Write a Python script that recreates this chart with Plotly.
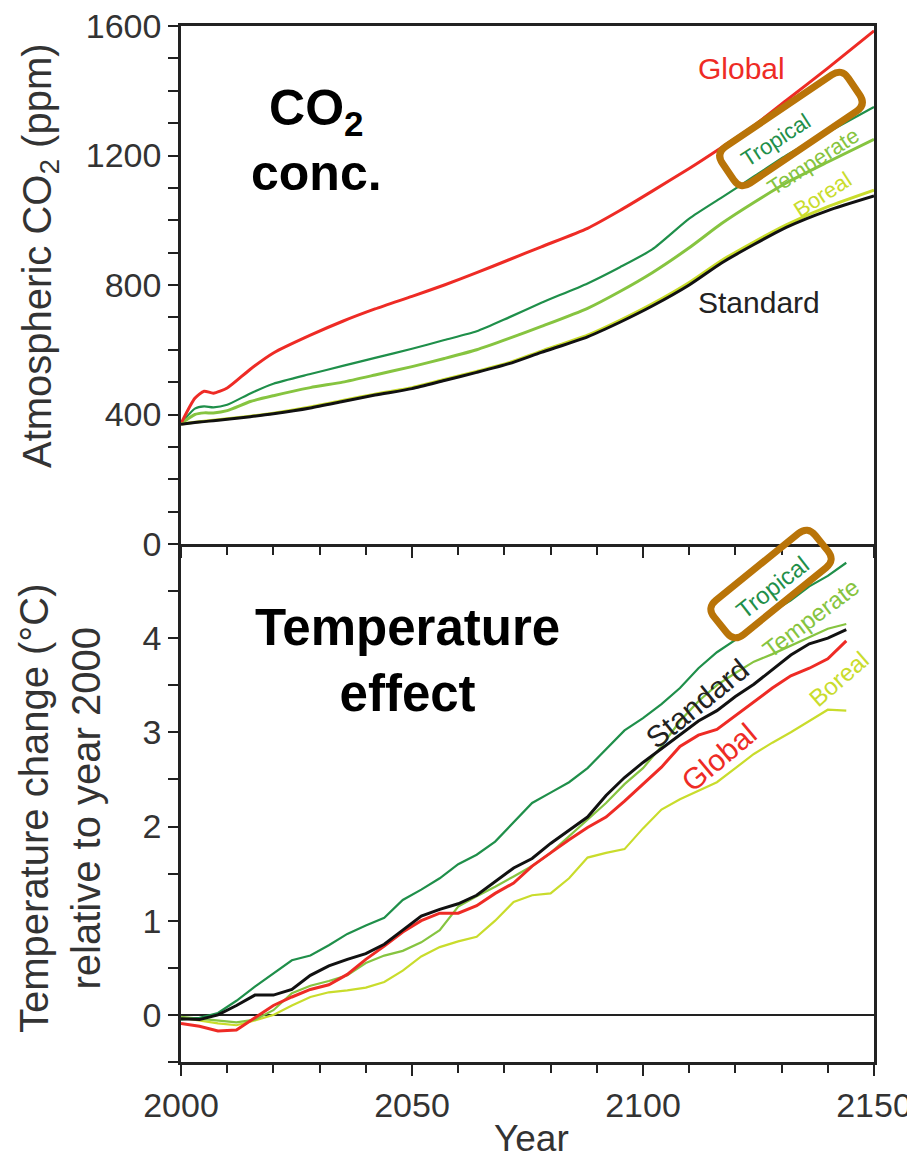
import math
import plotly.graph_objects as go

# ---------------- data ----------------
co2_years = [2000, 2003, 2005, 2007, 2010, 2015, 2020, 2028, 2035, 2042, 2050, 2057,
             2064, 2071, 2078, 2088, 2095, 2102, 2110, 2117, 2124, 2131, 2140, 2150]
co2_global = [372, 450, 472, 466, 482, 540, 590, 645, 688, 726, 765, 800,
              838, 878, 918, 975, 1030, 1090, 1160, 1225, 1292, 1370, 1470, 1585]
co2_tropical = [372, 418, 425, 422, 430, 465, 495, 525, 550, 575, 603, 630,
                657, 700, 745, 805, 855, 910, 1005, 1070, 1135, 1200, 1272, 1350]
co2_temperate = [372, 400, 405, 405, 412, 440, 458, 483, 500, 522, 548, 573,
                 600, 635, 672, 728, 780, 838, 915, 990, 1055, 1115, 1180, 1250]
co2_boreal = [371, 376, 379, 382, 387, 395, 404, 423, 443, 463, 483, 508,
              533, 560, 596, 645, 691, 742, 808, 876, 933, 986, 1042, 1093]
co2_standard = [370, 375, 378, 381, 385, 393, 402, 420, 440, 460, 480, 505,
                530, 557, 592, 640, 685, 735, 800, 868, 925, 978, 1030, 1075]

t_years = list(range(2000, 2145, 4))
t_tropical = [-0.05, -0.03, 0.02, 0.15, 0.30, 0.44, 0.58, 0.63, 0.74, 0.86, 0.95, 1.03,
              1.22, 1.33, 1.45, 1.60, 1.70, 1.84, 2.05, 2.25, 2.36, 2.47, 2.62, 2.82,
              3.02, 3.15, 3.30, 3.47, 3.68, 3.85, 3.98, 4.15, 4.28, 4.40, 4.55, 4.66, 4.80]
t_standard = [-0.04, -0.05, 0.00, 0.10, 0.21, 0.21, 0.27, 0.42, 0.52, 0.59, 0.65, 0.75,
              0.90, 1.05, 1.12, 1.18, 1.27, 1.42, 1.56, 1.66, 1.82, 1.96, 2.10, 2.33,
              2.52, 2.68, 2.83, 2.97, 3.12, 3.23, 3.38, 3.51, 3.66, 3.82, 3.94, 4.00, 4.09]
t_global = [-0.09, -0.12, -0.17, -0.16, -0.03, 0.10, 0.19, 0.27, 0.32, 0.43, 0.59, 0.73,
            0.88, 1.00, 1.08, 1.08, 1.16, 1.29, 1.40, 1.58, 1.72, 1.86, 1.99, 2.10,
            2.27, 2.45, 2.63, 2.85, 2.97, 3.03, 3.18, 3.33, 3.47, 3.60, 3.68, 3.78, 3.97]
t_temperate = [-0.02, -0.04, -0.06, -0.08, -0.05, 0.05, 0.23, 0.31, 0.36, 0.42, 0.55, 0.63,
               0.68, 0.77, 0.90, 1.15, 1.26, 1.36, 1.47, 1.58, 1.72, 1.90, 2.08, 2.25,
               2.45, 2.62, 2.85, 3.12, 3.33, 3.50, 3.63, 3.75, 3.83, 3.92, 4.01, 4.10, 4.15]
t_boreal = [-0.03, -0.06, -0.09, -0.11, -0.06, 0.00, 0.10, 0.19, 0.24, 0.26, 0.29, 0.35,
            0.47, 0.62, 0.72, 0.78, 0.83, 1.00, 1.20, 1.27, 1.29, 1.45, 1.67, 1.72,
            1.76, 1.98, 2.18, 2.29, 2.38, 2.47, 2.62, 2.77, 2.89, 3.00, 3.12, 3.24, 3.23]

# ---------------- styles ----------------
RED = "#ee2b25"
BLACK = "#111111"
TROP = "#1f8f4a"
TEMP = "#86c440"
BORE = "#c9dc2c"
ORANGE = "#b97408"
AXC = "#222222"
TXT = "#333333"
FONT = "Liberation Sans, Arial, sans-serif"

OFF = 8                      # page body margin of the html page
W, H = 915 - OFF, 1161 - OFF
# plot area on screen: x 181..874, y 26..1062
ML = 181 - OFF
MT = 26 - OFF
MR = W - (874 - OFF)
MB = H - (1062 - OFF)
PW = W - ML - MR
PH = H - MT - MB


def px2paper(px, py):
    """screen pixel -> paper coords"""
    return (px - OFF - ML) / PW, (H - MB - (py - OFF)) / PH


fig = go.Figure()

# top panel (CO2)
for vals, col, w in [(co2_tropical, TROP, 2.2), (co2_temperate, TEMP, 3),
                     (co2_global, RED, 3), (co2_boreal, BORE, 3), (co2_standard, BLACK, 3)]:
    fig.add_trace(go.Scatter(x=co2_years, y=vals, mode="lines", xaxis="x2", yaxis="y2",
                             line=dict(color=col, width=w, shape="spline", smoothing=0.6),
                             showlegend=False, hoverinfo="skip"))

# bottom panel (temperature)
for vals, col, w in [(t_boreal, BORE, 2.2), (t_temperate, TEMP, 2.2), (t_tropical, TROP, 2.2),
                     (t_global, RED, 3), (t_standard, BLACK, 3)]:
    fig.add_trace(go.Scatter(x=t_years, y=vals, mode="lines", xaxis="x", yaxis="y",
                             line=dict(color=col, width=w),
                             showlegend=False, hoverinfo="skip"))

axis_common = dict(showgrid=False, linecolor=AXC, linewidth=2.5, ticks="outside",
                   tickcolor=AXC, tickwidth=2, automargin=False, ticklabeloverflow="allow",
                   tickfont=dict(family=FONT, size=34, color=TXT))

fig.update_layout(
    width=W, height=H,
    margin=dict(l=ML, r=MR, t=MT, b=MB, pad=0, autoexpand=False),
    paper_bgcolor="white", plot_bgcolor="white",
    showlegend=False,
    xaxis=dict(domain=[0, 1], anchor="y", range=[2000, 2150], tickmode="linear", tick0=2000,
               dtick=50, ticklen=11, ticklabelstandoff=0, mirror=False,
               minor=dict(dtick=10, tick0=2000, ticks="outside", ticklen=8, tickwidth=2,
                          tickcolor=AXC, showgrid=False),
               **axis_common),
    yaxis=dict(domain=[0, 0.5], anchor="x", range=[-0.5, 4.999], tickmode="linear", tick0=0,
               dtick=1, ticklen=10, zeroline=True, zerolinecolor=AXC, zerolinewidth=2,
               mirror=True,
               minor=dict(dtick=0.5, tick0=0, ticks="outside", ticklen=10, tickwidth=2,
                          tickcolor=AXC, showgrid=False),
               **axis_common),
    xaxis2=dict(domain=[0, 1], anchor="y2", range=[2000, 2150], tickmode="linear", tick0=2000,
                dtick=50, ticklen=11, showticklabels=False, mirror=True,
                minor=dict(dtick=10, tick0=2000, ticks="outside", ticklen=8, tickwidth=2,
                           tickcolor=AXC, showgrid=False),
                **axis_common),
    yaxis2=dict(domain=[0.5, 1], anchor="x2", range=[0, 1600], tickmode="linear", tick0=0,
                dtick=400, ticklen=10, zeroline=False, mirror=True,
                minor=dict(dtick=100, tick0=0, ticks="outside", ticklen=10, tickwidth=2,
                           tickcolor=AXC, showgrid=False),
                **axis_common),
)


def ann(text, px, py, size, color, angle=0, bold=False):
    x, y = px2paper(px, py)
    fig.add_annotation(text=f"<b>{text}</b>" if bold else text, x=x, y=y,
                       xref="paper", yref="paper", xanchor="center", yanchor="middle",
                       showarrow=False, textangle=angle,
                       font=dict(family=FONT, size=size, color=color))


# axis titles
ann("Atmospheric CO<sub>2</sub> (ppm)", 40, 256, 40, TXT, angle=-90)
ann("Temperature change (°C)<br>relative to year 2000", 60, 808, 40, TXT, angle=-90)
ann("Year", 531, 1138, 37, TXT)

# panel labels
ann("CO<sub>2</sub><br>conc.", 316, 140, 50, "#000000", bold=True)
ann("Temperature<br>effect", 407, 660, 51, "#000000", bold=True)

# series labels, top
ann("Global", 741, 68, 30, RED)
ann("Standard", 759, 302, 30, "#222222")
ann("Tropical", 775, 140, 22, TROP, angle=-33)
ann("Temperate", 813, 161, 22, TEMP, angle=-33)
ann("Boreal", 823, 195, 22, BORE, angle=-33)

# series labels, bottom
ann("Tropical", 772, 587, 24, TROP, angle=-38)
ann("Temperate", 810, 618, 24, TEMP, angle=-37)
ann("Standard", 697, 703, 30, "#222222", angle=-39)
ann("Global", 719, 758, 30, RED, angle=-40)
ann("Boreal", 838, 679, 24, BORE, angle=-41)


def rounded_box(cx, cy, length, height, angle_deg, r):
    a = math.radians(angle_deg)
    ux, uy = math.cos(a), -math.sin(a)      # along the long side (pixel space, y down)
    vx, vy = -uy, ux                         # perpendicular
    hl, hh = length / 2, height / 2

    def P(s, t):
        return cx + ux * s + vx * t, cy + uy * s + vy * t

    seq = [
        ("M", (-hl + r, -hh)),
        ("L", (hl - r, -hh)), ("Q", (hl, -hh), (hl, -hh + r)),
        ("L", (hl, hh - r)), ("Q", (hl, hh), (hl - r, hh)),
        ("L", (-hl + r, hh)), ("Q", (-hl, hh), (-hl, hh - r)),
        ("L", (-hl, -hh + r)), ("Q", (-hl, -hh), (-hl + r, -hh)),
    ]
    parts = []
    for item in seq:
        cmd = item[0]
        coords = []
        for (s, t) in item[1:]:
            px, py = P(s, t)
            x, y = px2paper(px, py)
            coords.append(f"{x:.5f},{y:.5f}")
        parts.append(cmd + " " + " ".join(coords))
    return " ".join(parts) + " Z"


fig.add_shape(type="path", xref="paper", yref="paper",
              path=rounded_box(791, 129, 152, 44, 34, 12),
              line=dict(color=ORANGE, width=7), fillcolor="rgba(0,0,0,0)")
fig.add_shape(type="path", xref="paper", yref="paper",
              path=rounded_box(771, 584, 130, 44, 39, 12),
              line=dict(color=ORANGE, width=7), fillcolor="rgba(0,0,0,0)")

fig.write_html("out.html")
